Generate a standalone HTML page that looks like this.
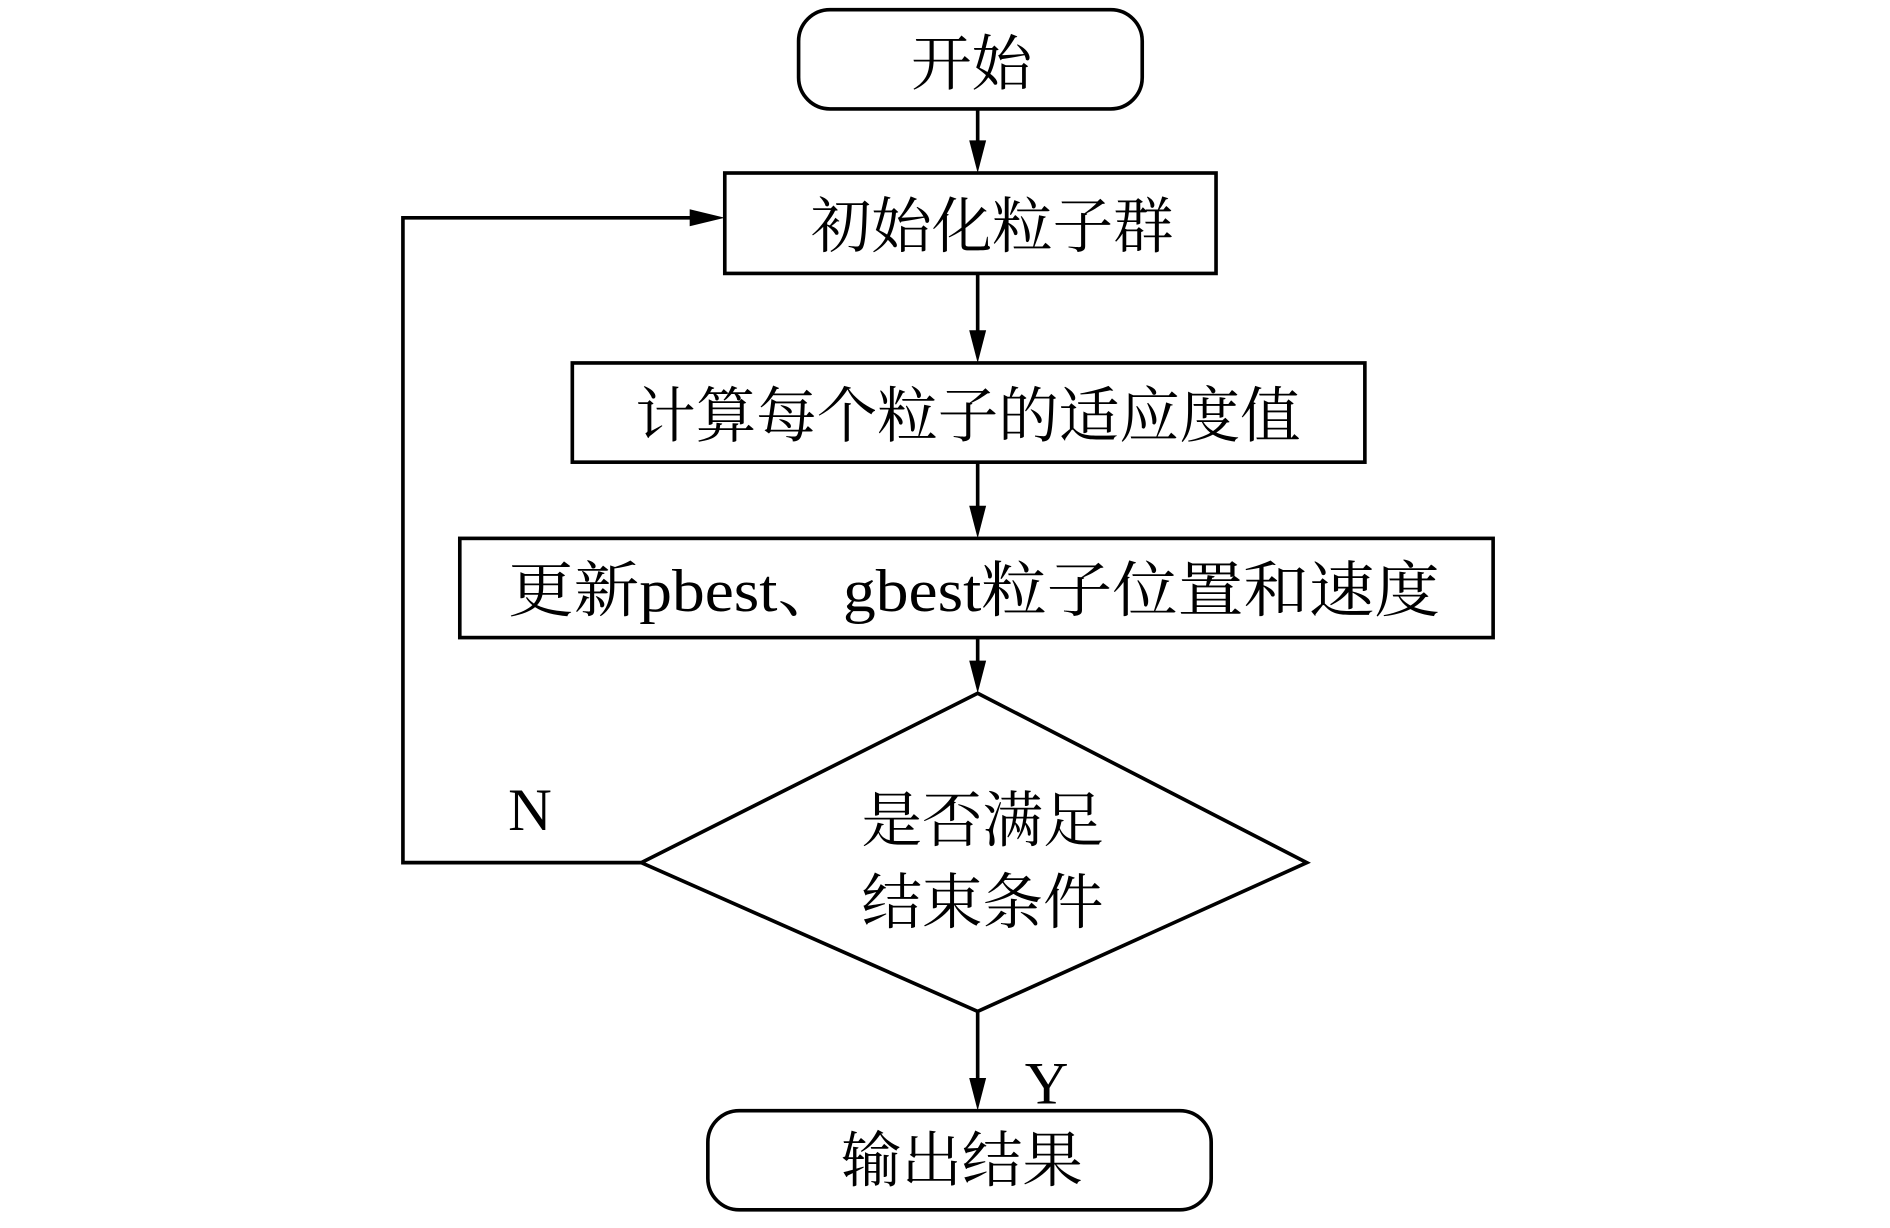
<!DOCTYPE html>
<html><head><meta charset="utf-8"><style>html,body{margin:0;padding:0;background:#fff;}svg{display:block;}</style></head>
<body>
<svg width="1890" height="1228" viewBox="0 0 1562 1015" preserveAspectRatio="none" xmlns="http://www.w3.org/2000/svg">
<defs><marker id="a" markerWidth="12" markerHeight="30" refX="6" refY="30" orient="auto" markerUnits="userSpaceOnUse" viewBox="0 0 12 30"></marker></defs>
<g fill="none" stroke="#000" stroke-width="3">
<rect x="660" y="8" width="284" height="82" rx="26"/>
<rect x="599" y="143" width="406" height="83"/>
<rect x="473" y="300" width="655" height="82"/>
<rect x="380" y="445" width="854" height="82"/>
<polygon points="808,573 1080,713 808,836 530,713"/>
<rect x="585" y="918" width="416" height="82" rx="26"/>
<line x1="808" y1="90" x2="808" y2="118"/>
<line x1="808" y1="226" x2="808" y2="275"/>
<line x1="808" y1="382" x2="808" y2="420"/>
<line x1="808" y1="527" x2="808" y2="548"/>
<line x1="808" y1="836" x2="808" y2="893"/>
<polyline points="530,713 333,713 333,180 572,180"/>
</g>
<g fill="#000">
<polygon points="801,116 815,116 808,143"/>
<polygon points="801,273 815,273 808,300"/>
<polygon points="801,418 815,418 808,445"/>
<polygon points="801,546 815,546 808,573"/>
<polygon points="801,891 815,891 808,918"/>
<polygon points="570,173 570,187 599,180"/>
</g>
<g font-family="'Liberation Serif','Noto Serif CJK SC',serif" font-size="50" fill="#000" text-anchor="middle">
<text x="803" y="70">开始</text>
<text x="820" y="204">初始化粒子群</text>
<text x="800" y="361">计算每个粒子的适应度值</text>
<text x="805" y="505" textLength="770" lengthAdjust="spacingAndGlyphs">更新pbest、gbest粒子位置和速度</text>
<text x="812" y="695">是否满足</text>
<text x="812" y="763">结束条件</text>
<text x="795" y="976">输出结果</text>
<text x="438" y="686">N</text>
<text x="865" y="912">Y</text>
</g>
</svg>
</body></html>
